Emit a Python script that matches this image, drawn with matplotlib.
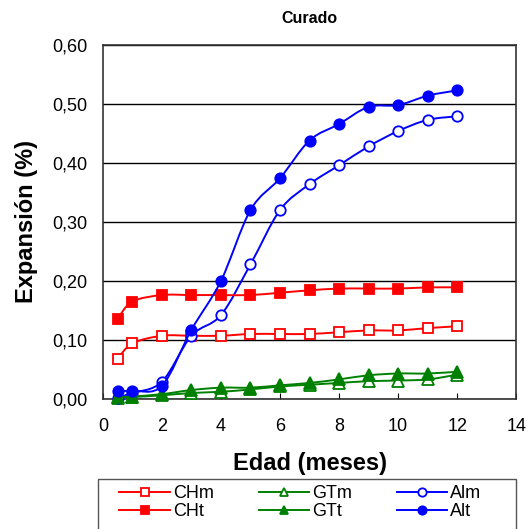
import numpy as np
import matplotlib
matplotlib.use('Agg')
import matplotlib.pyplot as plt
from matplotlib.path import Path
from matplotlib.patches import PathPatch, Rectangle
from matplotlib.lines import Line2D

plt.rcParams['font.family'] = ['Liberation Sans', 'DejaVu Sans']

# edad en meses
edad = [0.5, 1, 2, 3, 4, 5, 6, 7, 8, 9, 10, 11, 12]

chm = [0.068, 0.094, 0.107, 0.107, 0.107, 0.110, 0.110, 0.110, 0.113, 0.116, 0.116, 0.120, 0.123]
cht = [0.136, 0.165, 0.176, 0.176, 0.176, 0.176, 0.180, 0.184, 0.187, 0.187, 0.187, 0.189, 0.189]
gtm = [0.002, 0.003, 0.006, 0.010, 0.012, 0.016, 0.021, 0.024, 0.027, 0.030, 0.031, 0.033, 0.041]
gtt = [0.003, 0.004, 0.008, 0.015, 0.019, 0.019, 0.023, 0.027, 0.033, 0.040, 0.043, 0.043, 0.046]
alm = [0.002, 0.010, 0.029, 0.107, 0.142, 0.228, 0.320, 0.364, 0.396, 0.428, 0.454, 0.473, 0.479]
alt = [0.014, 0.014, 0.022, 0.117, 0.200, 0.320, 0.374, 0.438, 0.466, 0.495, 0.498, 0.514, 0.523]

series = [('CHm', chm, 'red', 's', False),
          ('GTm', gtm, 'green', '^', False),
          ('Alm', alm, 'blue', 'o', False),
          ('CHt', cht, 'red', 's', True),
          ('GTt', gtt, 'green', '^', True),
          ('Alt', alt, 'blue', 'o', True)]


def curva_suave(x, y):
    # linea suavizada tipo Excel (bezier por tramos)
    p = np.column_stack([x, y]).astype(float)
    n = len(p)
    verts = [p[0]]
    codes = [Path.MOVETO]
    for i in range(n - 1):
        a = p[i - 1] if i > 0 else p[i]
        d = p[i + 2] if i + 2 < n else p[i + 1]
        c1 = p[i] + (p[i + 1] - a) / 6.0
        c2 = p[i + 1] - (d - p[i]) / 6.0
        verts += [c1, c2, p[i + 1]]
        codes += [Path.CURVE4] * 3
    return Path(verts, codes)


fig = plt.figure(figsize=(5.30, 5.29), dpi=100)
ax = fig.add_axes([0.194, 0.246, 0.780, 0.669])

lineas = {}
for nombre, vals, col, mk, lleno in series:
    ms = 7.5 if mk != '^' else 8
    fc = col if lleno else 'white'
    ax.add_patch(PathPatch(curva_suave(edad, vals), fill=False, edgecolor=col,
                           lw=1.4, zorder=3))
    ax.plot(edad, vals, ls='none', marker=mk, markersize=ms,
            markerfacecolor=fc, markeredgecolor=col, markeredgewidth=1.3,
            clip_on=False, zorder=3)
    lineas[nombre] = Line2D([], [], color=col, lw=1.4, marker=mk, markersize=ms * 0.8,
                            markerfacecolor=fc, markeredgecolor=col, markeredgewidth=1.3)

ax.set_xlim(0, 14)
ax.set_ylim(0, 0.6)
ax.set_xticks(np.arange(0, 15, 2))
ax.set_yticks(np.arange(0, 0.61, 0.1))
ax.set_yticklabels([('%.2f' % v).replace('.', ',') for v in np.arange(0, 0.61, 0.1)])
ax.yaxis.grid(True, color='black', lw=1)
ax.set_axisbelow(True)
ax.tick_params(axis='x', labelsize=13, direction='in', length=4, color='black', pad=14)
ax.tick_params(axis='y', labelsize=13, length=0, pad=11)
for s in ax.spines.values():
    s.set_color('#333333')
    s.set_linewidth(1.2)

ax.set_title('Curado', fontsize=11.5, fontweight='bold', pad=16)
ax.set_xlabel('Edad (meses)', fontsize=17, fontweight='bold', labelpad=12)
ax.set_ylabel('Expansión (%)', fontsize=17, fontweight='bold', labelpad=10)

# marco de la leyenda
fig.patches.append(Rectangle((98 / 530, -0.05), 418 / 530, 0.05 + 1 - 479 / 529,
                             transform=fig.transFigure, fill=False,
                             edgecolor='#555555', lw=1.0))

orden = ['CHm', 'CHt', 'GTm', 'GTt', 'Alm', 'Alt']
leg = fig.legend([lineas[n] for n in orden], orden, loc='upper left',
                 bbox_to_anchor=(0.215, 0.093), ncol=3,
                 fontsize=13, frameon=False,
                 handlelength=2.8, handletextpad=0.15, labelspacing=0.05,
                 borderpad=0.3, borderaxespad=0, columnspacing=2.5)

fig.savefig('out.png', dpi=100)
